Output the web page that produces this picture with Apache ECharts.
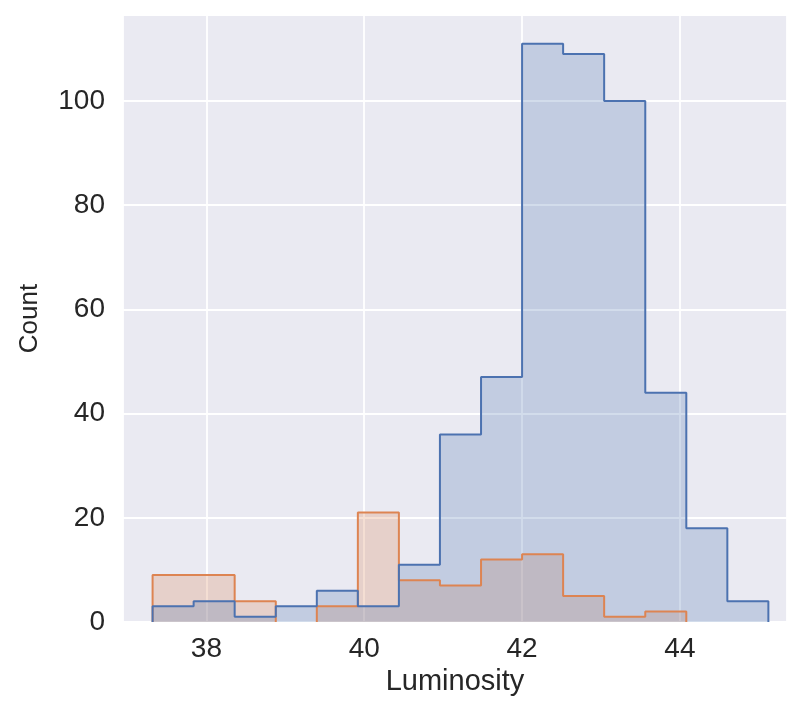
<!DOCTYPE html>
<html>
<head>
<meta charset="utf-8">
<script src="https://cdn.jsdelivr.net/npm/echarts@6/dist/echarts.min.js"></script>
<style>
  html, body { margin: 0; padding: 0; background: #ffffff; }
  #chart { width: 792px; height: 705px; }
</style>
</head>
<body>
<div id="chart"></div>
<script>
// Shared histogram bin edges (Luminosity)
const binEdges = [37.318, 37.838, 38.358, 38.879, 39.399, 39.919, 40.439, 40.959,
                  41.480, 42.000, 42.520, 43.040, 43.561, 44.081, 44.601, 45.121];
// Counts per bin for each group
const blueCounts   = [3, 4, 1, 3, 6, 3, 11, 36, 47, 111, 109, 100, 44, 18, 4];
const orangeCounts = [9, 9, 4, 0, 3, 21, 8, 7, 12, 13, 5, 1, 2, 0, 0];
// Axis ticks
const xTicks = [38, 40, 42, 44];
const yTicks = [0, 20, 40, 60, 80, 100];

// Filled step region: left edge, each bin top, right edge back to zero
function stepPoints(edges, counts) {
  const pts = [[edges[0], 0]];
  for (let i = 0; i < counts.length; i++) pts.push([edges[i], counts[i]]);
  pts.push([edges[edges.length - 1], 0]);
  return pts;
}

// Outline of the step region, broken wherever it would run along the baseline
function outlinePoints(edges, counts) {
  const pts = [];
  let open = false;
  for (let i = 0; i < counts.length; i++) {
    if (counts[i] > 0) {
      if (!open) { pts.push([edges[i], 0]); open = true; }
      pts.push([edges[i], counts[i]]);
    } else if (open) {
      pts.push([edges[i], 0]);
      pts.push([edges[i], null]);
      open = false;
    }
  }
  if (open) pts.push([edges[edges.length - 1], 0]);
  return pts;
}

const FONT = '"Liberation Sans", Arial, sans-serif';
const TEXT = '#262626';

function fillSeries(color, counts) {
  return {
    type: 'line',
    step: 'end',
    symbol: 'none',
    data: stepPoints(binEdges, counts),
    lineStyle: { width: 0, opacity: 0 },
    areaStyle: { color: color, opacity: 0.25 },
    silent: true
  };
}

function edgeSeries(color, counts) {
  return {
    type: 'line',
    step: 'end',
    symbol: 'none',
    connectNulls: false,
    data: outlinePoints(binEdges, counts),
    lineStyle: { color: color, width: 2 },
    silent: true
  };
}

const chart = echarts.init(document.getElementById('chart'), null, { renderer: 'canvas' });
chart.setOption({
  backgroundColor: '#ffffff',
  animation: false,
  grid: {
    show: true,
    left: 123, right: 5, top: 15, bottom: 83,
    backgroundColor: '#eaeaf2',
    borderWidth: 0
  },
  xAxis: {
    type: 'value',
    min: 36.943,
    max: 45.357,
    minInterval: 2,
    maxInterval: 2,
    name: 'Luminosity',
    nameLocation: 'middle',
    nameGap: 43,
    nameTextStyle: { fontFamily: FONT, fontSize: 29, color: TEXT },
    axisLine: { show: false },
    axisTick: { show: false },
    axisLabel: {
      fontFamily: FONT, fontSize: 28, color: TEXT, margin: 13,
      showMinLabel: false, showMaxLabel: false,
      formatter: v => (xTicks.includes(Math.round(v * 1000) / 1000) ? String(v) : '')
    },
    splitLine: { show: true, lineStyle: { color: '#ffffff', width: 1.8 } }
  },
  yAxis: {
    type: 'value',
    min: 0,
    max: 116.5,
    interval: 20,
    name: 'Count',
    nameLocation: 'middle',
    nameGap: 80,
    nameTextStyle: { fontFamily: FONT, fontSize: 26, color: TEXT },
    axisLine: { show: false },
    axisTick: { show: false },
    axisLabel: {
      fontFamily: FONT, fontSize: 28, color: TEXT, margin: 18,
      showMaxLabel: false,
      formatter: v => (yTicks.includes(v) ? String(v) : '')
    },
    splitLine: { show: true, lineStyle: { color: '#ffffff', width: 1.8 } }
  },
  series: [
    fillSeries('#dd8452', orangeCounts),
    edgeSeries('#dd8452', orangeCounts),
    fillSeries('#4c72b0', blueCounts),
    edgeSeries('#4c72b0', blueCounts)
  ]
});
</script>
</body>
</html>
